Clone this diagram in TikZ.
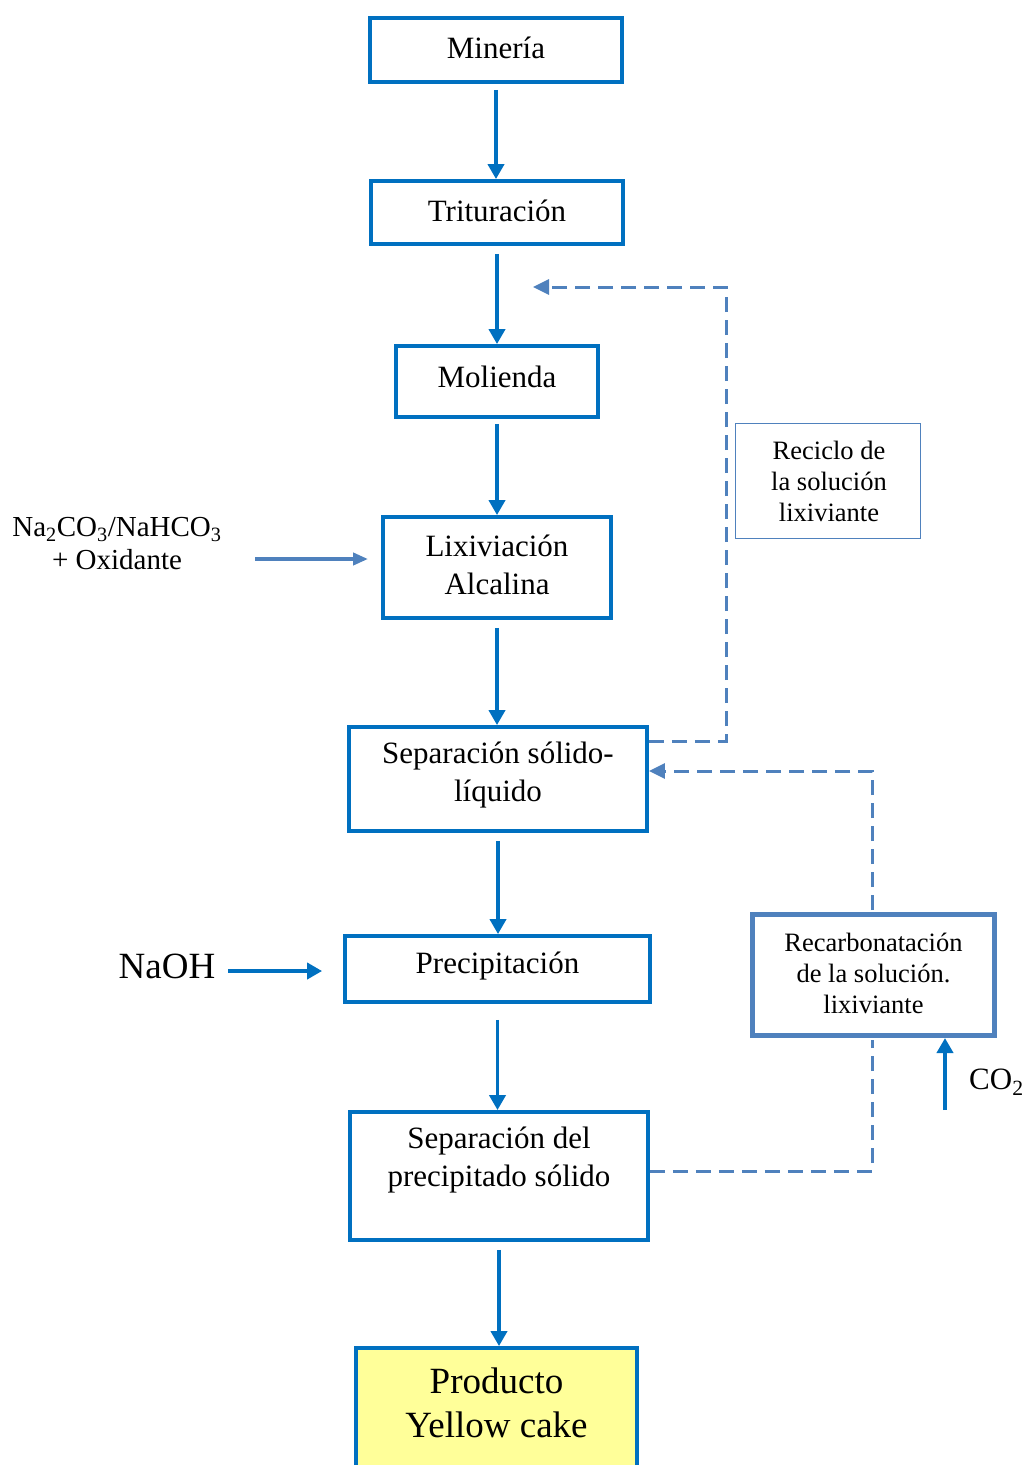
\documentclass[tikz,border=0pt]{standalone}
\usepackage{fontspec}
\setmainfont{Liberation Serif}
\usetikzlibrary{arrows.meta}
\definecolor{mblue}{HTML}{0070C0}
\definecolor{sblue}{HTML}{4F81BD}
\definecolor{ylw}{HTML}{FFFF99}
\begin{document}
\begin{tikzpicture}[x=1pt,y=-1pt,
  box/.style={draw=mblue,line width=3.8pt,rectangle,inner sep=0pt},
  lbl/.style={align=center,inner sep=0pt,text=black,font=\fontsize{31}{38}\selectfont},
  small/.style={align=center,inner sep=0pt,text=black,font=\fontsize{26.5}{31}\selectfont},
  arr/.style={draw=mblue,line width=3.8pt,-{Triangle[length=15pt,width=16pt]}},
  sarr/.style={draw=sblue,line width=4pt,-{Triangle[length=15pt,width=12pt]}},
  dline/.style={draw=sblue,line width=3pt,dash pattern=on 15pt off 8pt},
  dtip/.style={-{Triangle[length=16pt,width=15pt]}}
]
\useasboundingbox (0,0) rectangle (1027,1465);
\clip (0,0) rectangle (1027,1465);

% main boxes
\node[box,minimum width=252pt,minimum height=64pt] (min) at (496,50) {};
\node[lbl] (tmin) at (496,48) {Minería};
\node[box,minimum width=252pt,minimum height=63pt] (tri) at (497,212.5) {};
\node[lbl] (ttri) at (497,211) {Trituración};
\node[box,minimum width=202pt,minimum height=71pt] (mol) at (497,381.5) {};
\node[lbl] (tmol) at (497,377) {Molienda};
\node[box,minimum width=228pt,minimum height=101pt] (lix) at (497,567.5) {};
\node[lbl] (tlix) at (497,565) {Lixiviación\\Alcalina};
\node[box,minimum width=298pt,minimum height=104pt] (ssl) at (498,779) {};
\node[lbl] (tssl) at (498,775) {Separación sólido-\\líquido};
\node[box,minimum width=305pt,minimum height=66pt] (pre) at (497.5,969) {};
\node[lbl] (tpre) at (497.5,966) {Precipitación};
\node[box,minimum width=298pt,minimum height=128pt] (sps) at (499,1176) {};
\node[lbl] (tsps) at (499,1160) {Separación del\\precipitado sólido};
\node[box,fill=ylw,minimum width=281pt,minimum height=130pt] (pro) at (496.5,1413) {};
\node[lbl,font=\fontsize{37}{44}\selectfont] (tpro) at (496.5,1403) {Producto\\Yellow cake};

% side boxes
\node[draw=sblue,line width=1.8pt,rectangle,inner sep=0pt,minimum width=185pt,minimum height=115pt] (rec) at (828,481) {};
\node[small] (trec) at (829,481) {Reciclo de\\la solución\\lixiviante};
\node[draw=sblue,line width=5pt,rectangle,inner sep=0pt,minimum width=242pt,minimum height=121pt] (rcb) at (873.5,975) {};
\node[small] (trcb) at (873.5,973) {Recarbonatación\\de la solución.\\lixiviante};

% inputs
\node[align=center,inner sep=0pt,font=\fontsize{29}{33}\selectfont] (na) at (117,544) {Na\textsubscript{2}CO\textsubscript{3}/NaHCO\textsubscript{3}\\+ Oxidante};
\node[inner sep=0pt,font=\fontsize{37}{44}\selectfont] (naoh) at (167,966) {NaOH};
\node[inner sep=0pt,anchor=west,font=\fontsize{31}{38}\selectfont] (co2) at (969,1082) {CO\textsubscript{2}};

% main arrows
\path ([yshift=-6pt]min.south) coordinate (a1);
\draw[arr] (a1) -- (a1 |- tri.north);
\path ([yshift=-8pt]tri.south) coordinate (a2);
\draw[arr] (a2) -- (a2 |- mol.north);
\path ([yshift=-5pt]mol.south) coordinate (a3);
\draw[arr] (a3) -- (a3 |- lix.north);
\path ([yshift=-8pt]lix.south) coordinate (a4);
\draw[arr] (a4) -- (a4 |- ssl.north);
\path ([yshift=-8pt]ssl.south) coordinate (a5);
\draw[arr] (a5) -- (a5 |- pre.north);
\path ([yshift=-16pt]pre.south) coordinate (a6);
\draw[arr] (a6) -- (a6 |- sps.north);
\path ([yshift=-8pt]sps.south) coordinate (a7);
\draw[arr] (a7) -- (a7 |- pro.north);

% side arrows
\coordinate (naS) at (255,559);
\draw[sarr] (naS) -- ([xshift=-13pt]naS -| lix.west);
\coordinate (nhS) at (228,971);
\draw[arr] (nhS) -- ([xshift=-21pt]nhS -| pre.west);
\coordinate (coS) at (945,1110);
\draw[arr] (coS) -- (coS |- rcb.south);

% dashed recycle lines
\coordinate (rtip) at (533,287);
\draw[dline,dtip] (ssl.east |- 0,741) -- (726,741) -- (726,287) -- (rtip);
\draw[dline] (sps.east |- 0,1171) -- (872,1171) -- (872,1040);
\draw[dline,dtip] (872,910) -- (872,771) -- (ssl.east |- 0,771);
\end{tikzpicture}
\end{document}
